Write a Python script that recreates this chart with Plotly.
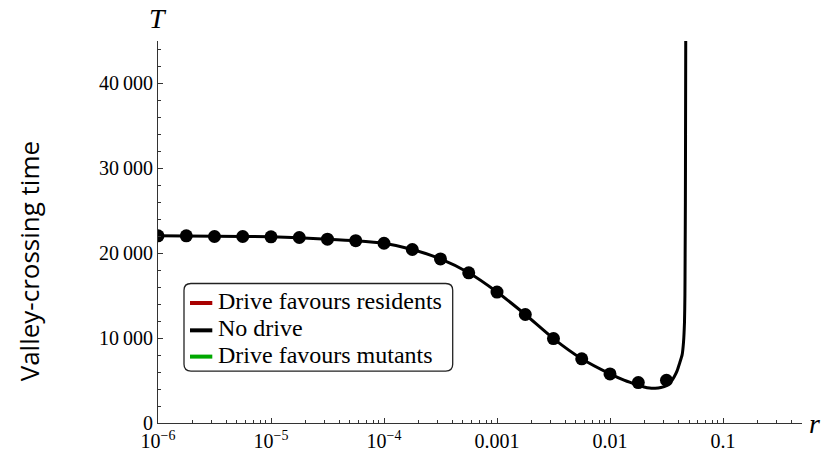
import plotly.graph_objects as go

# ---------------- data ----------------
r_points = [1e-6, 1.78e-6, 3.16e-6, 5.62e-6, 1e-5, 1.78e-5, 3.16e-5, 5.62e-5,
            1e-4, 1.78e-4, 3.16e-4, 5.62e-4, 1e-3, 1.78e-3, 3.16e-3, 5.62e-3,
            0.01, 0.0178, 0.0316]
T_points = [22050, 22050, 21970, 21970, 21935, 21855, 21660, 21480,
            21175, 20440, 19326, 17693, 15425, 12782, 9947, 7565,
            5784, 4763, 5036]

r_line = [1e-6, 3.16e-6, 1e-5, 3.16e-5, 5.62e-5, 1e-4, 1.78e-4, 3.16e-4,
          5.62e-4, 1e-3, 1.78e-3, 3.16e-3, 5.62e-3, 0.01, 0.0133, 0.0178,
          0.02, 0.0224, 0.0251, 0.0282, 0.0316, 0.0339, 0.0355, 0.0372,
          0.0393, 0.0412, 0.0435, 0.0447, 0.0456, 0.0460, 0.0462, 0.04645,
          0.0466, 0.0468]
T_line = [22050, 22000, 21935, 21660, 21480, 21175, 20440, 19326,
          17693, 15425, 12782, 9947, 7565, 5784, 5050, 4450,
          4250, 4120, 4100, 4180, 4400, 4750, 5050, 5500,
          6170, 7000, 8050, 9500, 11840, 15000, 19400, 26000,
          34000, 46000]

legend_labels = ["Drive favours residents", "No drive", "Drive favours mutants"]
legend_colors = ["#a80000", "#000000", "#00a800"]

x_tickvals = [1e-6, 1e-5, 1e-4, 1e-3, 1e-2, 1e-1]
x_ticktext = ["10<sup>\u22126</sup>", "10<sup>\u22125</sup>", "10<sup>\u22124</sup>",
              "0.001", "0.01", "0.1"]
y_tickvals = [0, 10000, 20000, 30000, 40000]
y_ticktext = ["0", "10\u2009000", "20\u2009000", "30\u2009000", "40\u2009000"]

# ---------------- layout geometry ----------------
W_FIG, H_FIG = 825, 464
ML, MR, MT, MB = 158, 23, 41, 26
PW, PH = W_FIG - ML - MR, H_FIG - MT - MB


def fx(px):
    return (px - ML) / PW


def fy(py):
    return (MT + PH - py) / PH


SERIF = "Liberation Serif"
SANS = "Open Sans"
AX = "#333333"

fig = go.Figure()
fig.add_trace(go.Scatter(x=r_line, y=T_line, mode="lines",
                         line=dict(color="black", width=3, shape="spline", smoothing=0.6),
                         showlegend=False, hoverinfo="skip"))
fig.add_trace(go.Scatter(x=r_points, y=T_points, mode="markers",
                         marker=dict(color="black", size=13),
                         showlegend=False))

# minor tick positions
x_minor = []
for dec in [1e-6, 1e-5, 1e-4, 1e-3, 1e-2, 1e-1]:
    for m in range(2, 10):
        v = m * dec
        if v <= 0.5:
            x_minor.append(v)
y_minor = list(range(0, 45001, 2000))

fig.update_xaxes(type="log", range=[-6, -0.30103], showline=True, linecolor=AX,
                 linewidth=1.2, ticks="inside", ticklen=5, tickwidth=1, tickcolor=AX,
                 tickmode="array", tickvals=x_tickvals, ticktext=x_ticktext,
                 tickfont=dict(family=SERIF, size=20, color="black"),
                 showgrid=False, zeroline=False,
                 minor=dict(ticks="inside", ticklen=3, tickwidth=1, tickcolor=AX,
                            tickmode="array", tickvals=x_minor, showgrid=False))
fig.update_yaxes(range=[0, 45000], showline=True, linecolor=AX, linewidth=1.2,
                 ticks="inside", ticklen=5, tickwidth=1, tickcolor=AX,
                 tickmode="array", tickvals=y_tickvals, ticktext=y_ticktext,
                 tickfont=dict(family=SERIF, size=20, color="black"),
                 showgrid=False, zeroline=False,
                 minor=dict(ticks="inside", ticklen=3, tickwidth=1, tickcolor=AX,
                            tickmode="array", tickvals=y_minor, showgrid=False))

shapes = []
annotations = []

# rounded legend box
x0, x1, y0, y1, rad = 184, 452.7, 293, 384, 7


def P(px, py):
    return f"{fx(px):.5f},{fy(py):.5f}"


path = (f"M{P(x0 + rad, y0)} L{P(x1 - rad, y0)} Q{P(x1, y0)} {P(x1, y0 + rad)} "
        f"L{P(x1, y1 - rad)} Q{P(x1, y1)} {P(x1 - rad, y1)} "
        f"L{P(x0 + rad, y1)} Q{P(x0, y1)} {P(x0, y1 - rad)} "
        f"L{P(x0, y0 + rad)} Q{P(x0, y0)} {P(x0 + rad, y0)} Z")
shapes.append(dict(type="path", path=path, xref="paper", yref="paper",
                   line=dict(color="#222222", width=1.3), fillcolor="white",
                   layer="above"))

row_line_y = [313.3, 341.7, 369.0]
row_text_y = [311.0, 339.0, 367.0]
for lab, col, ly, ty in zip(legend_labels, legend_colors, row_line_y, row_text_y):
    shapes.append(dict(type="line", xref="paper", yref="paper",
                       x0=fx(190), x1=fx(212.3), y0=fy(ly), y1=fy(ly),
                       line=dict(color=col, width=4), layer="above"))
    annotations.append(dict(text=lab, xref="paper", yref="paper",
                            x=fx(216), y=fy(ty), xanchor="left", yanchor="middle",
                            showarrow=False,
                            font=dict(family=SERIF, size=24, color="black")))

# axis letters
annotations.append(dict(text="<i>T</i>", xref="paper", yref="paper",
                        x=fx(158), y=fy(18), xanchor="center", yanchor="middle",
                        showarrow=False, font=dict(family=SERIF, size=28, color="black")))
annotations.append(dict(text="<i>r</i>", xref="paper", yref="paper",
                        x=fx(815), y=fy(438), xanchor="center", yanchor="middle",
                        showarrow=False, font=dict(family=SERIF, size=28, color="black")))
# y title
annotations.append(dict(text="Valley-crossing time", xref="paper", yref="paper",
                        x=fx(29), y=fy(270), xanchor="center", yanchor="middle",
                        textangle=-90, showarrow=False,
                        font=dict(family=SANS, size=26, color="black")))

fig.update_layout(width=W_FIG, height=H_FIG,
                  margin=dict(l=ML, r=MR, t=MT, b=MB, pad=0),
                  paper_bgcolor="white", plot_bgcolor="white",
                  shapes=shapes, annotations=annotations, showlegend=False)

fig.write_html("out.html")
